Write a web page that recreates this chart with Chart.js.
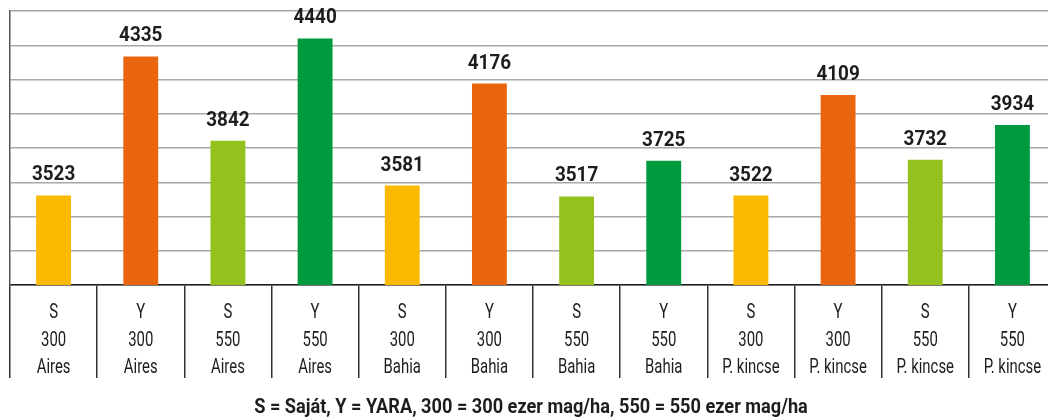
<!DOCTYPE html>
<html>
<head>
<meta charset="utf-8">
<script src="https://cdn.jsdelivr.net/npm/chart.js@4"></script>
<style>
  html, body { margin: 0; padding: 0; background: #fff; overflow: hidden; }
  #wrap { width: 1056px; height: 418px; }
</style>
</head>
<body>
<div id="wrap"><canvas id="chart"></canvas></div>
<script>
const type_labels = ["S", "Y", "S", "Y", "S", "Y", "S", "Y", "S", "Y", "S", "Y"];
const seed_labels = ["300", "300", "550", "550", "300", "300", "550", "550", "300", "300", "550", "550"];
const variety_labels = ["Aires", "Aires", "Aires", "Aires", "Bahia", "Bahia", "Bahia", "Bahia", "P. kincse", "P. kincse", "P. kincse", "P. kincse"];
const yields = [3523, 4335, 3842, 4440, 3581, 4176, 3517, 3725, 3522, 4109, 3732, 3934];
const y_min = 3000, y_max = 4600, y_step = 200;
const footnote = "S = Saját, Y = YARA, 300 = 300 ezer mag/ha, 550 = 550 ezer mag/ha";

const fontFam = "Roboto, 'Open Sans', sans-serif";

// colour by treatment: S300, Y300, S550, Y550
function barColor(i) {
  const key = type_labels[i] + seed_labels[i];
  if (key == "S300") return "#fbb900";
  if (key == "Y300") return "#e9660f";
  if (key == "S550") return "#95c11f";
  return "#009a3e";
}

const labels = type_labels.map((t, i) => [t, seed_labels[i], variety_labels[i]]);

// the original uses a condensed face, so squeeze text horizontally
function narrowText(ctx, txt, x, y, sx) {
  ctx.save();
  ctx.translate(x, y);
  ctx.scale(sx, 1);
  ctx.fillText(txt, 0, 0);
  ctx.restore();
}

// value labels, category labels and footnote
const textPlugin = {
  id: "texts",
  afterDatasetsDraw(chart) {
    const ctx = chart.ctx;
    const meta = chart.getDatasetMeta(0);
    const xs = chart.scales.x;
    ctx.save();
    ctx.fillStyle = "#1d1d1b";
    ctx.textAlign = "center";

    ctx.font = "bold 21px " + fontFam;
    ctx.textBaseline = "alphabetic";
    meta.data.forEach((bar, i) => {
      narrowText(ctx, String(yields[i]), bar.x, bar.y - 15, 0.9);
    });

    ctx.font = "21px " + fontFam;
    ctx.textBaseline = "middle";
    labels.forEach((lines, i) => {
      const x = xs.getPixelForValue(i);
      lines.forEach((ln, k) => {
        narrowText(ctx, ln, x, xs.top + 28 + k * 27.5, 0.71);
      });
    });

    ctx.font = "bold 21px " + fontFam;
    ctx.textBaseline = "alphabetic";
    narrowText(ctx, footnote, 531, 413, 0.865);
    ctx.restore();
  }
};

new Chart(document.getElementById("chart"), {
  type: "bar",
  data: {
    labels: labels,
    datasets: [{
      data: yields,
      backgroundColor: yields.map((v, i) => barColor(i)),
      borderWidth: 0,
      barPercentage: 0.4,
      categoryPercentage: 1.0
    }]
  },
  options: {
    responsive: true,
    maintainAspectRatio: false,
    animation: false,
    layout: { padding: { left: 10, top: 11, right: 0, bottom: 40 } },
    plugins: {
      legend: { display: false },
      tooltip: { enabled: false }
    },
    scales: {
      x: {
        afterFit: (s) => { s.height = 93; },
        grid: {
          offset: true,
          drawOnChartArea: false,
          drawTicks: true,
          tickLength: 93,
          color: "#333",
          lineWidth: 1.5
        },
        border: { display: true, color: "#1d1d1b", width: 1.5 },
        ticks: { display: false, autoSkip: false }
      },
      y: {
        min: y_min,
        max: y_max,
        afterFit: (s) => { s.width = 0; },
        ticks: { display: false, stepSize: y_step },
        grid: { color: "#a8a8a8", lineWidth: 1.5, drawTicks: false },
        border: { display: true, color: "#555", width: 1.5 }
      }
    }
  },
  plugins: [textPlugin]
});
</script>
</body>
</html>
